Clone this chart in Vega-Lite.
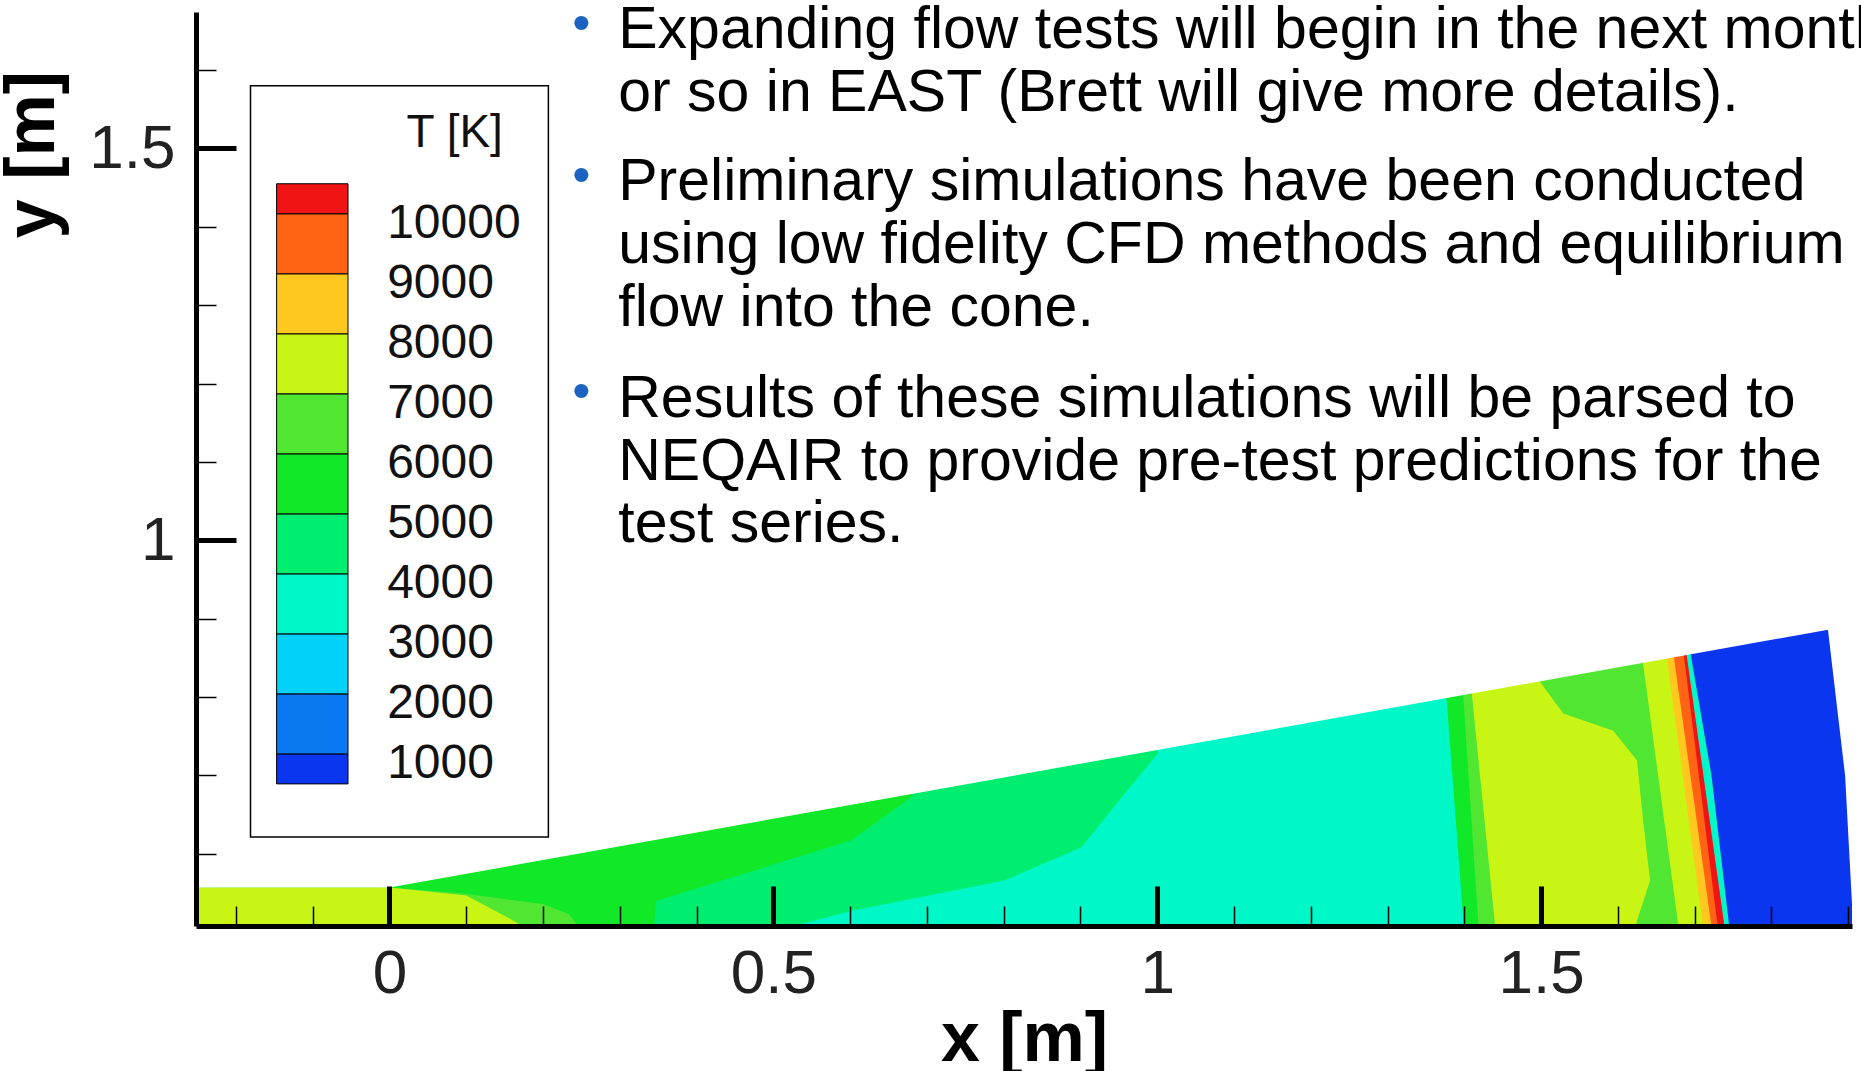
{
  "$schema": "https://vega.github.io/schema/vega-lite/v6.json",
  "width": 1656,
  "height": 914,
  "autosize": "none",
  "padding": {"left": 196, "top": 12, "right": 9, "bottom": 145},
  "config": {"view": {"stroke": null}, "font": "Liberation Sans"},
  "datasets": {
    "vert": [
      {"s": 1, "band": "3000", "x": -0.26, "hi": 0.95, "lo": 0.5},
      {"s": 1, "band": "3000", "x": 1.80, "hi": 0.95, "lo": 0.5},
      {"s": 2, "band": "4000", "x": -0.26, "hi": 0.95, "lo": 0.5},
      {"s": 2, "band": "4000", "x": 0.527, "hi": 0.95, "lo": 0.508},
      {"s": 2, "band": "4000", "x": 0.601, "hi": 0.95, "lo": 0.527},
      {"s": 2, "band": "4000", "x": 0.801, "hi": 0.95, "lo": 0.566},
      {"s": 2, "band": "4000", "x": 0.901, "hi": 0.95, "lo": 0.608},
      {"s": 2, "band": "4000", "x": 0.961, "hi": 0.95, "lo": 0.681},
      {"s": 2, "band": "4000", "x": 1.001, "hi": 0.95, "lo": 0.728},
      {"s": 2, "band": "4000", "x": 1.01, "hi": 0.95, "lo": 0.95},
      {"s": 3, "band": "5000", "x": -0.26, "hi": 0.95, "lo": 0.5},
      {"s": 3, "band": "5000", "x": 0.344, "hi": 0.95, "lo": 0.5},
      {"s": 3, "band": "5000", "x": 0.347, "hi": 0.95, "lo": 0.54},
      {"s": 3, "band": "5000", "x": 0.601, "hi": 0.95, "lo": 0.617},
      {"s": 3, "band": "5000", "x": 0.668, "hi": 0.95, "lo": 0.664},
      {"s": 3, "band": "5000", "x": 0.681, "hi": 0.95, "lo": 0.674},
      {"s": 3, "band": "5000", "x": 0.69, "hi": 0.95, "lo": 0.95},
      {"s": 4, "band": "6000", "x": -0.26, "hi": 0.557, "lo": 0.5},
      {"s": 4, "band": "6000", "x": 0.0, "hi": 0.557, "lo": 0.5},
      {"s": 4, "band": "6000", "x": 0.1, "hi": 0.549, "lo": 0.5},
      {"s": 4, "band": "6000", "x": 0.2, "hi": 0.536, "lo": 0.5},
      {"s": 4, "band": "6000", "x": 0.234, "hi": 0.523, "lo": 0.5},
      {"s": 4, "band": "6000", "x": 0.244, "hi": 0.51, "lo": 0.5},
      {"s": 4, "band": "6000", "x": 0.246, "hi": 0.5, "lo": 0.5},
      {"s": 5, "band": "7000", "x": -0.26, "hi": 0.557, "lo": 0.5},
      {"s": 5, "band": "7000", "x": 0.0, "hi": 0.557, "lo": 0.5},
      {"s": 5, "band": "7000", "x": 0.1, "hi": 0.547, "lo": 0.5},
      {"s": 5, "band": "7000", "x": 0.154, "hi": 0.519, "lo": 0.5},
      {"s": 5, "band": "7000", "x": 0.17, "hi": 0.51, "lo": 0.5},
      {"s": 5, "band": "7000", "x": 0.172, "hi": 0.5, "lo": 0.5}
    ],
    "horiz": [
      {"s": 11, "band": "5000", "y": 0.5, "xl": 1.40, "xr": 1.80},
      {"s": 11, "band": "5000", "y": 0.9, "xl": 1.369, "xr": 1.80},
      {"s": 12, "band": "6000", "y": 0.5, "xl": 1.419, "xr": 1.80},
      {"s": 12, "band": "6000", "y": 0.9, "xl": 1.392, "xr": 1.80},
      {"s": 13, "band": "7000", "y": 0.5, "xl": 1.441, "xr": 1.80},
      {"s": 13, "band": "7000", "y": 0.9, "xl": 1.40, "xr": 1.80},
      {"s": 14, "band": "6000", "y": 0.5, "xl": 1.622, "xr": 1.80},
      {"s": 14, "band": "6000", "y": 0.515, "xl": 1.625, "xr": 1.80},
      {"s": 14, "band": "6000", "y": 0.566, "xl": 1.642, "xr": 1.80},
      {"s": 14, "band": "6000", "y": 0.642, "xl": 1.633, "xr": 1.80},
      {"s": 14, "band": "6000", "y": 0.719, "xl": 1.625, "xr": 1.80},
      {"s": 14, "band": "6000", "y": 0.757, "xl": 1.594, "xr": 1.80},
      {"s": 14, "band": "6000", "y": 0.779, "xl": 1.529, "xr": 1.80},
      {"s": 14, "band": "6000", "y": 0.819, "xl": 1.499, "xr": 1.80},
      {"s": 14, "band": "6000", "y": 0.9, "xl": 1.48, "xr": 1.80},
      {"s": 15, "band": "7000", "y": 0.5, "xl": 1.68, "xr": 1.80},
      {"s": 15, "band": "7000", "y": 0.9, "xl": 1.625, "xr": 1.80},
      {"s": 16, "band": "8000", "y": 0.5, "xl": 1.712, "xr": 1.80},
      {"s": 16, "band": "8000", "y": 0.9, "xl": 1.657, "xr": 1.80},
      {"s": 17, "band": "9000", "y": 0.5, "xl": 1.723, "xr": 1.80},
      {"s": 17, "band": "9000", "y": 0.9, "xl": 1.666, "xr": 1.80},
      {"s": 18, "band": "10000", "y": 0.5, "xl": 1.731, "xr": 1.80},
      {"s": 18, "band": "10000", "y": 0.9, "xl": 1.68, "xr": 1.80},
      {"s": 19, "band": "3000", "y": 0.5, "xl": 1.74, "xr": 1.80},
      {"s": 19, "band": "3000", "y": 0.9, "xl": 1.683, "xr": 1.80},
      {"s": 20, "band": "500", "y": 0.5, "xl": 1.746, "xr": 1.907},
      {"s": 20, "band": "500", "y": 0.7, "xl": 1.722, "xr": 1.896},
      {"s": 20, "band": "500", "y": 0.9, "xl": 1.687, "xr": 1.872}
    ],
    "mask": [
      {"x": -0.26, "yt": 0.557, "yb": 1.7},
      {"x": 0.0, "yt": 0.557, "yb": 1.7},
      {"x": 1.874, "yt": 0.886, "yb": 1.7},
      {"x": 1.92, "yt": 0.895, "yb": 1.7}
    ],
    "lines": [
      {"x": 0.298, "y": 1.6515, "t": "Expanding flow tests will begin in the next month"},
      {"x": 0.298, "y": 1.571, "t": "or so in EAST (Brett will give more details)."},
      {"x": 0.298, "y": 1.4576, "t": "Preliminary simulations have been conducted"},
      {"x": 0.298, "y": 1.377, "t": "using low fidelity CFD methods and equilibrium"},
      {"x": 0.298, "y": 1.297, "t": "flow into the cone."},
      {"x": 0.298, "y": 1.18, "t": "Results of these simulations will be parsed to"},
      {"x": 0.298, "y": 1.1, "t": "NEQAIR to provide pre-test predictions for the"},
      {"x": 0.298, "y": 1.021, "t": "test series."}
    ],
    "bullets": [
      {"x": 0.25, "y": 1.659},
      {"x": 0.25, "y": 1.465},
      {"x": 0.25, "y": 1.189}
    ],
    "swatches": [
      {"band": "500", "lo": 500, "hi": 1000},
      {"band": "1000", "lo": 1000, "hi": 2000},
      {"band": "2000", "lo": 2000, "hi": 3000},
      {"band": "3000", "lo": 3000, "hi": 4000},
      {"band": "4000", "lo": 4000, "hi": 5000},
      {"band": "5000", "lo": 5000, "hi": 6000},
      {"band": "6000", "lo": 6000, "hi": 7000},
      {"band": "7000", "lo": 7000, "hi": 8000},
      {"band": "8000", "lo": 8000, "hi": 9000},
      {"band": "9000", "lo": 9000, "hi": 10000},
      {"band": "10000", "lo": 10000, "hi": 10500}
    ],
    "labels": [
      {"v": 1000}, {"v": 2000}, {"v": 3000}, {"v": 4000}, {"v": 5000},
      {"v": 6000}, {"v": 7000}, {"v": 8000}, {"v": 9000}, {"v": 10000}
    ]
  },
  "layer": [
    {
      "layer": [
        {
          "data": {"name": "vert"},
          "mark": {"type": "area", "orient": "vertical", "clip": true},
          "encoding": {
            "x": {
              "field": "x", "type": "quantitative",
              "scale": {"domain": [-0.252, 1.905], "nice": false, "zero": false},
              "axis": {
                "title": "x [m]", "titleFontSize": 70, "titleFontWeight": "bold", "titleColor": "black",
                "titleY": 113, "titleBaseline": "middle",
                "values": [-0.2, -0.1, 0, 0.1, 0.2, 0.3, 0.4, 0.5, 0.6, 0.7, 0.8, 0.9, 1, 1.1, 1.2, 1.3, 1.4, 1.5, 1.6, 1.7, 1.8, 1.9],
                "format": ".1~f",
                "labelExpr": "abs(datum.value*2-round(datum.value*2))<0.001 ? datum.label : ''",
                "labelFontSize": 62, "labelColor": "#222", "labelPadding": 57, "labelFlush": false,
                "tickColor": "black",
                "tickSize": {"condition": {"test": "abs(datum.value*2-round(datum.value*2))<0.001", "value": -40}, "value": -20},
                "tickWidth": {"condition": {"test": "abs(datum.value*2-round(datum.value*2))<0.001", "value": 5}, "value": 1.5},
                "domainColor": "black", "domainWidth": 5, "grid": false, "zindex": 1
              }
            },
            "y": {
              "field": "hi", "type": "quantitative",
              "scale": {"domain": [0.508, 1.674], "nice": false, "zero": false},
              "axis": {
                "title": "y [m]", "titleFontSize": 70, "titleFontWeight": "bold", "titleColor": "black",
                "titleX": -128, "titleY": 142, "titleAngle": 270,
                "values": [0.6, 0.7, 0.8, 0.9, 1, 1.1, 1.2, 1.3, 1.4, 1.5, 1.6],
                "format": ".1~f",
                "labelExpr": "abs(datum.value*2-round(datum.value*2))<0.001 ? datum.label : ''",
                "labelFontSize": 62, "labelColor": "#222", "labelPadding": 61,
                "tickColor": "black",
                "tickSize": {"condition": {"test": "abs(datum.value*2-round(datum.value*2))<0.001", "value": -40}, "value": -20},
                "tickWidth": {"condition": {"test": "abs(datum.value*2-round(datum.value*2))<0.001", "value": 5}, "value": 1.5},
                "domainColor": "black", "domainWidth": 5, "grid": false, "zindex": 1
              }
            },
            "y2": {"field": "lo"},
            "detail": {"field": "s", "type": "nominal"},
            "color": {
              "field": "band", "type": "nominal", "legend": null,
              "scale": {
                "domain": ["500", "1000", "2000", "3000", "4000", "5000", "6000", "7000", "8000", "9000", "10000"],
                "range": ["#0a36f0", "#0a78f0", "#00d2fa", "#00f8c8", "#00ee70", "#10e828", "#50e632", "#c8f514", "#ffc81e", "#ff6414", "#f01414"]
              }
            }
          }
        },
        {
          "data": {"name": "horiz"},
          "mark": {"type": "area", "orient": "horizontal", "clip": true},
          "encoding": {
            "y": {"field": "y", "type": "quantitative", "axis": {"title": "y [m]"}},
            "x": {"field": "xl", "type": "quantitative", "axis": {"title": "x [m]"}},
            "x2": {"field": "xr"},
            "detail": {"field": "s", "type": "nominal"},
            "color": {"field": "band", "type": "nominal", "legend": null}
          }
        },
        {
          "data": {"name": "mask"},
          "mark": {"type": "area", "orient": "vertical", "color": "white", "clip": true},
          "encoding": {
            "x": {"field": "x", "type": "quantitative", "axis": {"title": "x [m]"}},
            "y": {"field": "yt", "type": "quantitative", "axis": {"title": "y [m]"}},
            "y2": {"field": "yb"}
          }
        },
        {
          "data": {"name": "lines"},
          "mark": {"type": "text", "align": "left", "baseline": "middle", "fontSize": 59, "color": "black"},
          "encoding": {
            "x": {"field": "x", "type": "quantitative", "axis": {"title": "x [m]"}},
            "y": {"field": "y", "type": "quantitative", "axis": {"title": "y [m]"}},
            "text": {"field": "t"}
          }
        },
        {
          "data": {"name": "bullets"},
          "mark": {"type": "text", "align": "center", "baseline": "middle", "fontSize": 52, "color": "#1a64c0", "text": "•"},
          "encoding": {
            "x": {"field": "x", "type": "quantitative", "axis": {"title": "x [m]"}},
            "y": {"field": "y", "type": "quantitative", "axis": {"title": "y [m]"}}
          }
        }
      ]
    },
    {
      "layer": [
        {
          "data": {"values": [{"x1": -0.181, "x2": 0.207, "y1": -384, "y2": 12135}]},
          "mark": {"type": "rect", "fill": "white", "stroke": "black", "strokeWidth": 1.5},
          "encoding": {
            "x": {"field": "x1", "type": "quantitative", "axis": {"title": "x [m]"}},
            "x2": {"field": "x2"},
            "y": {"field": "y1", "type": "quantitative", "axis": null, "scale": {"domain": [-1868, 13362], "nice": false, "zero": false}},
            "y2": {"field": "y2"}
          }
        },
        {
          "data": {"name": "swatches"},
          "mark": {"type": "rect", "stroke": "black", "strokeWidth": 1},
          "encoding": {
            "x": {"datum": -0.147, "type": "quantitative", "axis": {"title": "x [m]"}},
            "x2": {"datum": -0.054},
            "y": {"field": "lo", "type": "quantitative", "axis": null},
            "y2": {"field": "hi"},
            "color": {"field": "band", "type": "nominal", "legend": null}
          }
        },
        {
          "data": {"name": "labels"},
          "mark": {"type": "text", "align": "left", "baseline": "middle", "fontSize": 48, "color": "#111", "dy": 10},
          "encoding": {
            "x": {"datum": -0.003, "type": "quantitative", "axis": {"title": "x [m]"}},
            "y": {"field": "v", "type": "quantitative", "axis": null},
            "text": {"field": "v", "type": "nominal"}
          }
        },
        {
          "data": {"values": [{"x": 0.085, "y": 11344, "t": "T [K]"}]},
          "mark": {"type": "text", "align": "center", "baseline": "middle", "fontSize": 46, "color": "#111"},
          "encoding": {
            "x": {"field": "x", "type": "quantitative", "axis": {"title": "x [m]"}},
            "y": {"field": "y", "type": "quantitative", "axis": null},
            "text": {"field": "t"}
          }
        }
      ]
    }
  ],
  "resolve": {"scale": {"y": "independent"}}
}
